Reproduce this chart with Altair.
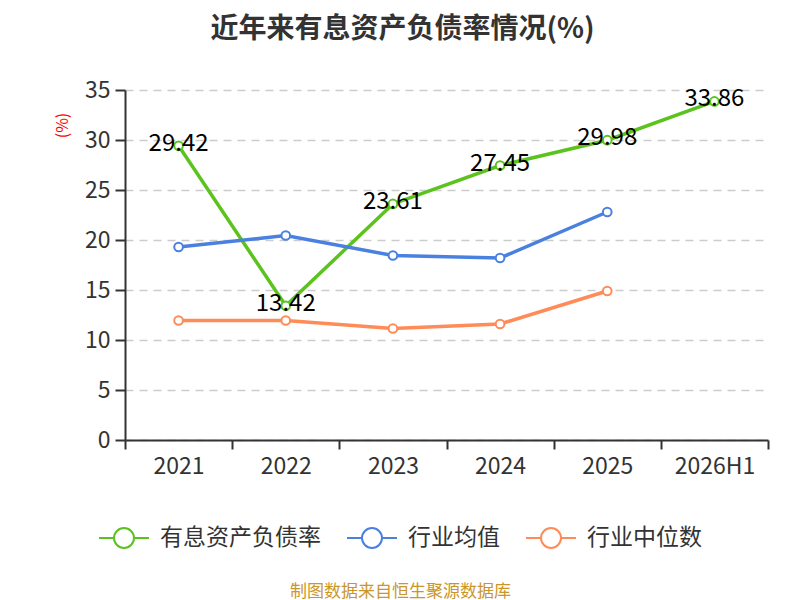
import altair as alt
import pandas as pd

years = ["2021", "2022", "2023", "2024", "2025", "2026H1"]
series_names = ["有息资产负债率", "行业均值", "行业中位数"]
rate = [29.42, 13.42, 23.61, 27.45, 29.98, 33.86]
ind_mean = [19.3, 20.45, 18.45, 18.2, 22.8]
ind_median = [11.95, 11.95, 11.15, 11.6, 14.9]
colors = ["#5cc21e", "#4a80e0", "#ff8c58"]

rows = []
for y, v in zip(years, rate):
    rows.append({"year": y, "series": series_names[0], "value": v, "label": f"{v:.2f}"})
for y, v in zip(years, ind_mean):
    rows.append({"year": y, "series": series_names[1], "value": v, "label": ""})
for y, v in zip(years, ind_median):
    rows.append({"year": y, "series": series_names[2], "value": v, "label": ""})
df = pd.DataFrame(rows)

FONT = "Noto Sans CJK SC"
sym = "M-1,0L-0.4,0M0.4,0L1,0M0.4,0A0.4,0.4,0,1,1,-0.4,0A0.4,0.4,0,1,1,0.4,0"

x = alt.X("year:N", sort=years, scale=alt.Scale(domain=years, paddingInner=0, paddingOuter=0),
          axis=alt.Axis(title="制图数据来自恒生聚源数据库", titleColor="#c9962b", titleFontSize=17,
                        titleFontWeight="normal", titleFont=FONT, titleY=151, titleX=275,
                        titleAnchor="middle", titleBaseline="middle", labelAngle=0, labelFontSize=23,
                        labelColor="#333333", labelFont=FONT, labelPadding=6, tickBand="extent",
                        tickSize=9, tickColor="#333333", domainColor="#333333", domainWidth=2,
                        tickWidth=2, grid=False))
y = alt.Y("value:Q", scale=alt.Scale(domain=[0, 35], nice=False),
          axis=alt.Axis(title="(%)", titleColor="#ff0000", titleFontSize=16, titleFontWeight="normal",
                        titleFont=FONT, titleX=-63, titleY=35, titleAngle=-90, titleAlign="center",
                        titleBaseline="middle", values=[0, 5, 10, 15, 20, 25, 30, 35],
                        labelFontSize=23, labelColor="#333333", labelFont=FONT, labelPadding=5,
                        tickSize=10, tickColor="#333333", tickWidth=2, domainColor="#333333",
                        domainWidth=2, grid=True, gridColor="#cccccc", gridDash=[8, 6],
                        gridWidth=1.5))
color = alt.Color("series:N", sort=series_names,
                  scale=alt.Scale(domain=series_names, range=colors),
                  legend=alt.Legend(title=None, orient="none", legendX=-27, legendY=422,
                                    direction="horizontal", symbolType=sym, symbolSize=2500,
                                    symbolStrokeWidth=2, symbolFillColor="white",
                                    labelFontSize=23, labelFont=FONT, labelColor="#333333",
                                    labelLimit=400, labelOffset=10, columnPadding=22))

base = alt.Chart(df)
lines = base.mark_line(strokeWidth=3.5).encode(x=x, y=y, color=color, order=alt.Order("year:N"))
points = base.mark_point(filled=False, fill="white", size=75, strokeWidth=2, opacity=1).encode(
    x=x, y=y, color=alt.Color("series:N", sort=series_names,
                              scale=alt.Scale(domain=series_names, range=colors), legend=None))
labels = base.mark_text(fontSize=24, font=FONT, color="#000000", baseline="middle", dy=-2).encode(
    x=x, y=y, text="label:N")

chart = alt.layer(lines, points, labels).properties(
    width=643, height=350,
    title=alt.Title("近年来有息资产负债率情况(%)", fontSize=28, font=FONT, fontWeight="bold",
                    color="#333333", anchor="middle", dx=-44, offset=35),
    autosize=alt.AutoSizeParams(type="none"),
    padding={"left": 117, "top": 82, "right": 24, "bottom": 160},
).configure_view(stroke=None)

chart.save("out.html", embed_options={"renderer": "svg", "actions": False})
